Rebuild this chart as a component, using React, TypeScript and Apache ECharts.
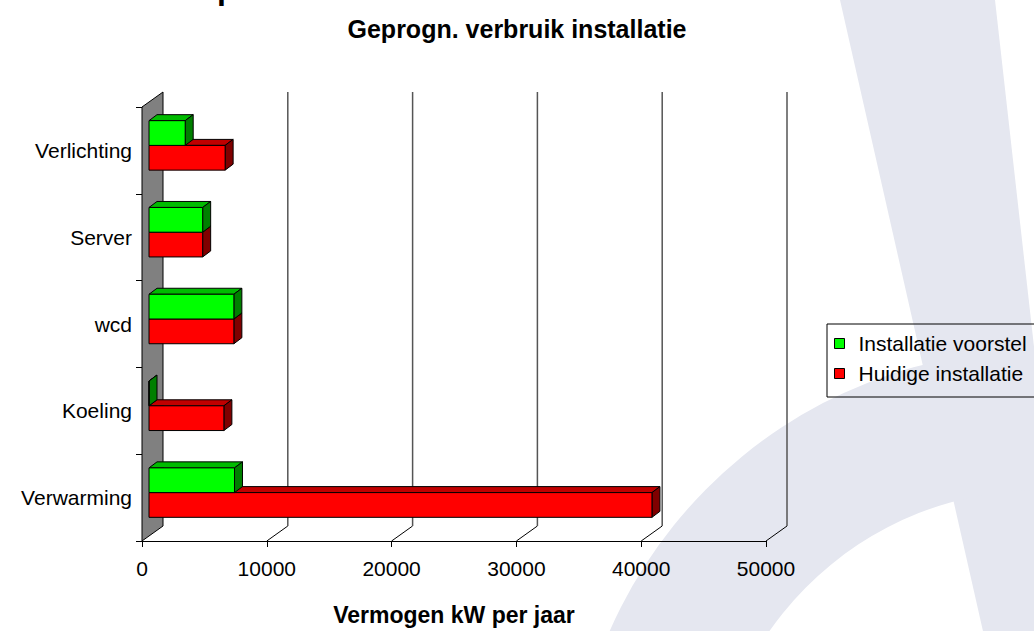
import React, { useEffect, useRef } from "react";
import * as echarts from "echarts";

const categories = ["Verwarming", "Koeling", "wcd", "Server", "Verlichting"];
const voorstel = [6850, 0, 6800, 4300, 2900];
const huidige = [40300, 6000, 6800, 4300, 6100];
const xTicks = [0, 10000, 20000, 30000, 40000, 50000];
const seriesNames = ["Installatie voorstel", "Huidige installatie"];
const titleText = "Geprogn. verbruik installatie";
const xAxisName = "Vermogen kW per jaar";

const FONT = '"Liberation Sans", Arial, sans-serif';
const DX = 21;
const DY = -15;
const BAR_OFF_X = 7;
const BAR_OFF_Y = -5;
const BAR_DX = 8;
const BAR_DY = -6;
const WM = "#e5e7f0";

function barRenderer(which: number) {
  const colors =
    which === 0
      ? ["#00ff00", "#00bb00", "#007f00"]
      : ["#ff0000", "#c00000", "#800000"];
  return (params: any, api: any) => {
    const val = api.value(0);
    const idx = api.value(1);
    const p0 = api.coord([0, idx]);
    const p1 = api.coord([val, idx]);
    const band = api.size([0, 1])[1];
    const h = band * 0.285;
    const cy = p0[1];
    const top = (which === 0 ? cy - h : cy) + BAR_OFF_Y;
    const bot = top + h;
    const x0 = p0[0] + BAR_OFF_X;
    const x1 = p1[0] + BAR_OFF_X;
    const st = (fill: string) => ({ fill, stroke: "#000", lineWidth: 1 });
    return {
      type: "group",
      children: [
        {
          type: "polygon",
          shape: {
            points: [
              [x0, top],
              [x0 + BAR_DX, top + BAR_DY],
              [x1 + BAR_DX, top + BAR_DY],
              [x1, top],
            ],
          },
          style: st(colors[1]),
        },
        {
          type: "polygon",
          shape: {
            points: [
              [x1, top],
              [x1 + BAR_DX, top + BAR_DY],
              [x1 + BAR_DX, bot + BAR_DY],
              [x1, bot],
            ],
          },
          style: st(colors[2]),
        },
        {
          type: "rect",
          shape: { x: x0, y: top, width: x1 - x0, height: h },
          style: st(colors[0]),
        },
      ],
    };
  };
}

function gridRenderer(params: any, api: any) {
  const v = api.value(0);
  const cs = params.coordSys;
  const x = api.coord([v, 0])[0];
  const top = cs.y;
  const bottom = cs.y + cs.height;
  if (v === 0) {
    return {
      type: "polygon",
      shape: {
        points: [
          [x, top],
          [x + DX, top + DY],
          [x + DX, bottom + DY],
          [x, bottom],
        ],
      },
      style: { fill: "#808080", stroke: "#000", lineWidth: 1 },
    };
  }
  return {
    type: "group",
    children: [
      {
        type: "line",
        shape: { x1: x, y1: bottom, x2: x + DX, y2: bottom + DY },
        style: { stroke: "#000", lineWidth: 1 },
      },
      {
        type: "line",
        shape: { x1: x + DX, y1: top + DY, x2: x + DX, y2: bottom + DY },
        style: { stroke: "#555", lineWidth: 1.5 },
      },
    ],
  };
}

export default function App() {
  const ref = useRef<HTMLDivElement>(null);
  useEffect(() => {
    if (!ref.current) return;
    const chart = echarts.init(ref.current, undefined, { renderer: "svg" });
    chart.setOption({
      animation: false,
      backgroundColor: "#ffffff",
      textStyle: { fontFamily: FONT },
      title: {
        text: titleText,
        left: "center",
        top: 11,
        textStyle: { fontFamily: FONT, fontSize: 25, fontWeight: "bold", color: "#000" },
      },
      graphic: [
        {
          type: "polygon",
          z: -10,
          silent: true,
          shape: {
            points: [
              [840, 0],
              [995, 0],
              [1040, 400],
              [1040, 640],
              [985, 640],
            ],
          },
          style: { fill: WM },
        },
        {
          type: "sector",
          z: -10,
          silent: true,
          shape: {
            cx: 1040,
            cy: 820,
            r: 470,
            r0: 330,
            startAngle: (195 * Math.PI) / 180,
            endAngle: (290 * Math.PI) / 180,
          },
          style: { fill: WM },
        },
        {
          type: "text",
          x: 217,
          y: -12,
          style: {
            text: "p",
            fontFamily: FONT,
            fontSize: 32,
            fontWeight: "bold",
            fill: "#000",
            verticalAlign: "middle",
          },
        },
      ],
      legend: {
        data: seriesNames,
        orient: "vertical",
        left: 827,
        top: 324,
        padding: [9, 30, 13, 7],
        itemGap: 9,
        itemWidth: 10,
        itemHeight: 10,
        icon: "rect",
        borderColor: "#000",
        borderWidth: 1,
        itemStyle: { borderColor: "#000", borderWidth: 1 },
        textStyle: { fontFamily: FONT, fontSize: 21, color: "#000", lineHeight: 20, padding: [0, 0, 0, 9] },
      },
      grid: { left: 142, top: 107, width: 624, height: 439, containLabel: false },
      xAxis: {
        type: "value",
        min: xTicks[0],
        max: xTicks[xTicks.length - 1],
        interval: xTicks[1] - xTicks[0],
        name: xAxisName,
        nameLocation: "middle",
        nameGap: 62,
        nameTextStyle: { fontFamily: FONT, fontSize: 23, fontWeight: "bold", color: "#000" },
        axisLine: { show: true, lineStyle: { color: "#000", width: 1 } },
        axisTick: { show: true, length: 6, lineStyle: { color: "#000" } },
        axisLabel: {
          fontFamily: FONT,
          fontSize: 21,
          color: "#000",
          margin: 17,
          formatter: (v: number) => String(v),
        },
        splitLine: { show: false },
      },
      yAxis: {
        type: "category",
        data: categories,
        axisLine: { show: true, lineStyle: { color: "#000", width: 1 } },
        axisTick: { show: true, length: 6, lineStyle: { color: "#000" } },
        axisLabel: { fontFamily: FONT, fontSize: 21, color: "#000", margin: 10 },
        splitLine: { show: false },
      },
      series: [
        {
          type: "custom",
          name: "grid3d",
          clip: false,
          silent: true,
          renderItem: gridRenderer,
          data: xTicks.map((t) => [t, 0]),
          z: 1,
        },
        {
          type: "custom",
          name: seriesNames[1],
          clip: false,
          itemStyle: { color: "#ff0000" },
          renderItem: barRenderer(1),
          data: huidige.map((v, i) => [v, i]),
          z: 2,
        },
        {
          type: "custom",
          name: seriesNames[0],
          clip: false,
          itemStyle: { color: "#00ff00" },
          renderItem: barRenderer(0),
          data: voorstel.map((v, i) => [v, i]),
          z: 3,
        },
      ],
    });
    return () => chart.dispose();
  }, []);
  return (
    <div
      ref={ref}
      style={{ position: "absolute", left: 0, top: 0, width: 1034, height: 631 }}
    />
  );
}
